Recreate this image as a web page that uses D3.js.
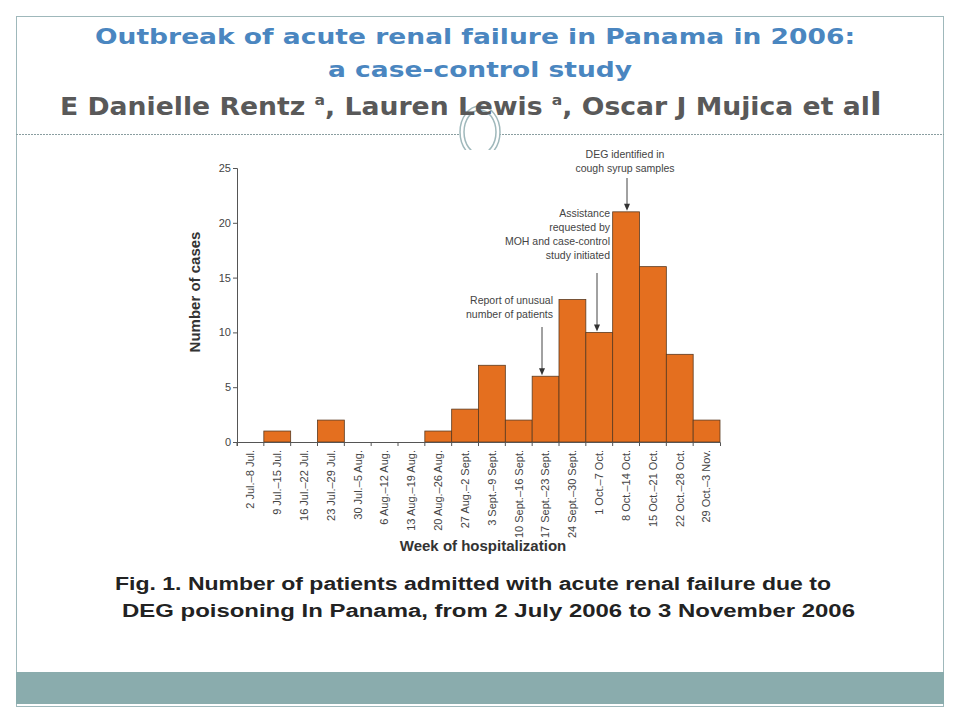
<!DOCTYPE html>
<html><head><meta charset="utf-8">
<script src="https://cdn.jsdelivr.net/npm/d3@7"></script>
<style>body{margin:0;background:#fff}</style>
</head><body><svg width="960" height="720"></svg>
<script>
// Weekly counts
const weeks = ["2 Jul.–8 Jul.", "9 Jul.–15 Jul.", "16 Jul.–22 Jul.", "23 Jul.–29 Jul.", "30 Jul.–5 Aug.",
  "6 Aug.–12 Aug.", "13 Aug.–19 Aug.", "20 Aug.–26 Aug.", "27 Aug.–2 Sept.", "3 Sept.–9 Sept.",
  "10 Sept.–16 Sept.", "17 Sept.–23 Sept.", "24 Sept.–30 Sept.", "1 Oct.–7 Oct.", "8 Oct.–14 Oct.",
  "15 Oct.–21 Oct.", "22 Oct.–28 Oct.", "29 Oct.–3 Nov."];
const cases = [0, 1, 0, 2, 0, 0, 0, 1, 3, 7, 2, 6, 13, 10, 21, 16, 8, 2];
const yTicks = [0, 5, 10, 15, 20, 25];

const svg = d3.select("svg");

// slide frame
svg.append("rect").attr("x", 16.5).attr("y", 16.5).attr("width", 927).attr("height", 690)
  .attr("fill", "none").attr("stroke", "#9fb8bb");
svg.append("rect").attr("x", 16).attr("y", 672).attr("width", 928).attr("height", 32).attr("fill", "#8aacad");
svg.append("line").attr("x1", 16).attr("x2", 944).attr("y1", 134.5).attr("y2", 134.5)
  .attr("stroke", "#8a9ea0").attr("stroke-dasharray", "2,1");
[20, 16].forEach(r => svg.append("ellipse").attr("cx", 480).attr("cy", 132).attr("rx", r).attr("ry", r + 6)
  .attr("fill", r === 20 ? "#fff" : "none").attr("stroke", "#9fb8bb").attr("stroke-width", 1.5));
svg.append("rect").attr("x", 455).attr("y", 150).attr("width", 50).attr("height", 14).attr("fill", "#fff");

// titles
const tf = "'DejaVu Sans', Verdana, sans-serif";
svg.append("text").attr("x", 95).attr("y", 44).attr("font-family", tf)
  .attr("font-weight", "bold").attr("font-size", 22).attr("fill", "#4a86c0")
  .attr("textLength", 760).attr("lengthAdjust", "spacingAndGlyphs")
  .text("Outbreak of acute renal failure in Panama in 2006:");
svg.append("text").attr("x", 328).attr("y", 77).attr("font-family", tf)
  .attr("font-weight", "bold").attr("font-size", 22).attr("fill", "#4a86c0")
  .attr("textLength", 304).attr("lengthAdjust", "spacingAndGlyphs").text("a case-control study");
const auth = svg.append("text").attr("x", 60).attr("y", 115).attr("font-family", tf)
  .attr("font-weight", "bold").attr("font-size", 24).attr("fill", "#595959")
  .attr("textLength", 822).attr("lengthAdjust", "spacingAndGlyphs");
auth.append("tspan").text("E Danielle Rentz ");
auth.append("tspan").attr("font-size", 14).attr("dy", -10).text("a");
auth.append("tspan").attr("dy", 10).text(", Lauren Lewis ");
auth.append("tspan").attr("font-size", 14).attr("dy", -10).text("a");
auth.append("tspan").attr("dy", 10).text(", Oscar J Mujica et al");
auth.append("tspan").attr("font-size", 32).text("l");

// chart
const x = d3.scaleBand().domain(weeks).range([237, 720]).padding(0);
const y = d3.scaleLinear().domain([0, 25]).range([442, 168]);
const cf = "'Liberation Sans Narrow', 'Liberation Sans', Arial, sans-serif";

svg.append("g").selectAll("rect").data(cases).join("rect")
  .attr("x", (d, i) => x(weeks[i])).attr("width", x.bandwidth())
  .attr("y", d => y(d)).attr("height", d => y(0) - y(d))
  .attr("fill", "#e46f1f").attr("stroke", "#5a3a20").attr("stroke-width", 0.8)
  .style("display", d => d === 0 ? "none" : null);

const ya = svg.append("g").attr("transform", "translate(237,0)")
  .call(d3.axisLeft(y).tickValues(yTicks).tickSize(4).tickPadding(2));
const xa = svg.append("g").attr("transform", "translate(0,442)")
  .call(d3.axisBottom(x).tickSize(4).tickPadding(3));
[ya, xa].forEach(a => {
  a.selectAll("path,line").attr("stroke", "#555");
  a.selectAll("text").attr("font-family", cf).attr("font-size", 11).attr("fill", "#444");
});
xa.selectAll(".tick line").attr("transform", `translate(${-x.bandwidth() / 2},0)`);
xa.selectAll(".tick text").attr("transform", "rotate(-90)").attr("text-anchor", "end")
  .attr("x", -8).attr("y", 0).attr("dy", "0.35em");

svg.append("text").attr("transform", "translate(200,292) rotate(-90)").attr("text-anchor", "middle")
  .attr("font-family", cf).attr("font-weight", "bold").attr("font-size", 15).attr("fill", "#333")
  .text("Number of cases");
svg.append("text").attr("x", 483).attr("y", 551).attr("text-anchor", "middle")
  .attr("font-family", cf).attr("font-weight", "bold").attr("font-size", 15).attr("fill", "#333")
  .text("Week of hospitalization");

// annotations
function note(lines, tx, ty, anchor, ax, y0, val) {
  const t = svg.append("text").attr("font-family", cf).attr("font-size", 10.5).attr("fill", "#444")
    .attr("text-anchor", anchor);
  lines.forEach((l, i) => t.append("tspan").attr("x", tx).attr("y", ty + i * 14).text(l));
  const yEnd = y(val) - 1;
  svg.append("line").attr("x1", ax).attr("x2", ax).attr("y1", y0).attr("y2", yEnd - 5)
    .attr("stroke", "#444");
  svg.append("path").attr("d", `M${ax - 3},${yEnd - 7}L${ax + 3},${yEnd - 7}L${ax},${yEnd}Z`).attr("fill", "#333");
}
note(["DEG identified in", "cough syrup samples"], 625, 158, "middle", 627, 178, cases[14]);
note(["Assistance", "requested by", "MOH and case-control", "study initiated"], 610, 217, "end", 597, 273, cases[13]);
note(["Report of unusual", "number of patients"], 553, 304, "end", 542, 327, cases[11]);

// caption
const cap = ["Fig. 1. Number of patients admitted with acute renal failure due to",
  "DEG poisoning In Panama, from 2 July 2006 to 3 November 2006"];
const capX = [115, 122], capW = [716, 733];
cap.forEach((c, i) => svg.append("text").attr("x", capX[i]).attr("y", 590 + i * 27)
  .attr("font-family", "'Liberation Sans', Arial, sans-serif")
  .attr("textLength", capW[i]).attr("lengthAdjust", "spacingAndGlyphs")
  .attr("font-weight", "bold").attr("font-size", 18).attr("fill", "#222").text(c));
</script></body></html>
